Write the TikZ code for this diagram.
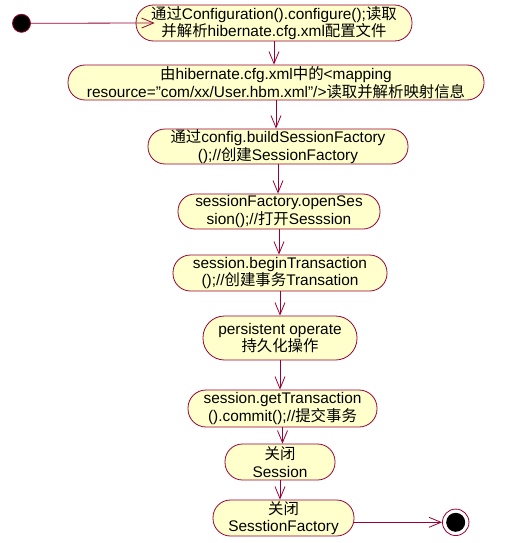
\documentclass[tikz,border=0pt]{standalone}
\usepackage{fontspec}
\setmainfont{Liberation Sans}
\newfontfamily\cjk{Noto Sans CJK SC}
\usetikzlibrary{arrows.meta}
\definecolor{rosered}{HTML}{990033}
\definecolor{rosefill}{HTML}{FFFFCC}
\tikzset{
  act/.style n args={2}{draw=rosered, fill=rosefill, line width=0.8pt,
    minimum width=#1pt, minimum height=#2pt, rounded corners={#2*0.5pt-0.5pt},
    align=center, inner sep=0pt, font=\fontsize{15.4}{17.5}\selectfont},
  flow/.style={draw=rosered, line width=0.8pt, -{Straight Barb[length=12pt,width=10pt]}},
}
\begin{document}
\begin{tikzpicture}[x=1pt,y=-1pt]
\useasboundingbox (0,0) rectangle (521,543);
\node[act={276}{36}] (n1) at (274,23) {{\cjk 通过}Configuration().configure();{\cjk 读取}\\{\cjk 并解析}hibernate.cfg.xml{\cjk 配置文件}};
\node[act={416}{35}] (n2) at (276,82.5) {{\cjk 由}hibernate.cfg.xml{\cjk 中的}<mapping\\resource="com/xx/User.hbm.xml"/>{\cjk 读取并解析映射信息}};
\node[act={260}{35}] (n3) at (278,146.5) {{\cjk 通过}config.buildSessionFactory\\();//{\cjk 创建}SessionFactory};
\node[act={202}{35}] (n4) at (279,211.5) {sessionFactory.openSes\\sion();//{\cjk 打开}Sesssion};
\node[act={214}{36}] (n5) at (280,273) {session.beginTransaction\\();//{\cjk 创建事务}Transation};
\node[act={154}{44}] (n6) at (280,338) {persistent operate\\{\cjk 持久化操作}};
\node[act={189}{37}] (n7) at (282.5,408.5) {session.getTransaction\\().commit();//{\cjk 提交事务}};
\node[act={110}{36}] (n8) at (280,462) {{\cjk 关闭}\\Session};
\node[act={141}{36}] (n9) at (283.5,518) {{\cjk 关闭}\\SesstionFactory};
\node[circle, draw=rosered, fill=black, line width=0.8pt, minimum size=18pt, inner sep=0pt] (s) at (21.5,23.3) {};
\node[circle, draw=rosered, fill=white, line width=0.8pt, minimum size=26.5pt, inner sep=0pt] (e) at (455.7,522.3) {};
\node[circle, fill=black, minimum size=19pt, inner sep=0pt] (ein) at (e) {};
\draw[flow] (s) -- ([xshift=19pt]n1.west);
\draw[flow] (n1.south) -- (n1.south |- n2.north);
\draw[flow] (n2.south) -- (n2.south |- n3.north);
\draw[flow] (n3.south) -- (n3.south |- n4.north);
\draw[flow] (n4.south) -- (n4.south |- n5.north);
\draw[flow] (n5.south) -- (n5.south |- n6.north);
\draw[flow] (n6.south) -- (n6.south |- n7.north);
\draw[flow] (n7.south) -- (n7.south |- n8.north);
\draw[flow] (n8.south) -- (n8.south |- n9.north);
\draw[flow] (n9.east |- e.west) -- (e.west);
\end{tikzpicture}
\end{document}
